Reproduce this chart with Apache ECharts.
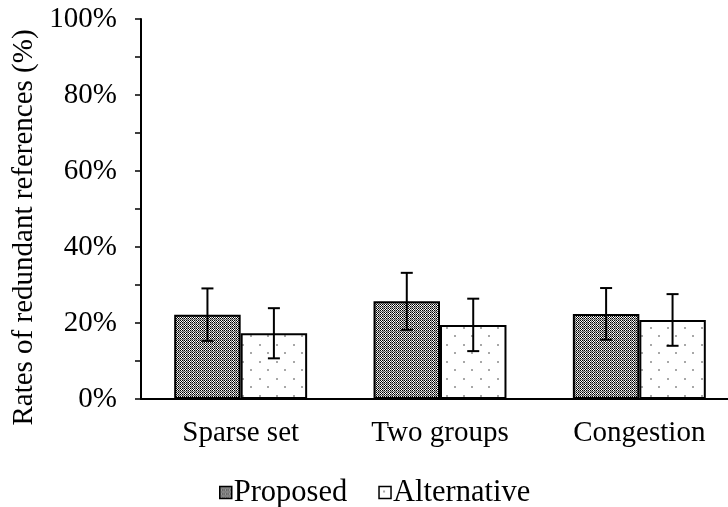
<!DOCTYPE html>
<html>
<head>
<meta charset="utf-8">
<script src="https://cdn.jsdelivr.net/npm/echarts@6/dist/echarts.min.js"></script>
<style>html,body{margin:0;padding:0;background:#fff;}#c{width:728px;height:507px;}</style>
</head>
<body>
<div id="c"></div>
<script>
const categories = ['Sparse set', 'Two groups', 'Congestion'];
const proposed = [22.2, 25.7, 22.4];
const proposedErr = [6.9, 7.5, 6.8];
const alternative = [17.3, 19.5, 20.8];
const alternativeErr = [6.6, 6.9, 6.8];
const yTicks = [0, 20, 40, 60, 80, 100];

const FONT = "'Liberation Serif', 'Times New Roman', serif";

function makeChecker() {
  const c = document.createElement('canvas');
  c.width = 8; c.height = 8;
  const ctx = c.getContext('2d');
  for (let y = 0; y < 8; y++) {
    for (let x = 0; x < 8; x++) {
      let col = ((x + y) % 2 === 0) ? '#000' : '#fff';
      if (x % 4 === 3 || y % 4 === 3) col = ((x + y) % 2 === 0) ? '#555' : '#bbb';
      ctx.fillStyle = col;
      ctx.fillRect(x, y, 1, 1);
    }
  }
  return c;
}
function makeDots() {
  const c = document.createElement('canvas');
  c.width = 17; c.height = 17;
  const ctx = c.getContext('2d');
  ctx.fillStyle = '#fff';
  ctx.fillRect(0, 0, 17, 17);
  ctx.fillStyle = '#a8a8a8';
  ctx.fillRect(4, 4, 2, 2);
  ctx.fillRect(12, 12, 2, 2);
  return c;
}

const chart = echarts.init(document.getElementById('c'), null, {renderer: 'canvas'});

function errItem(offsetSign) {
  return function (params, api) {
    const i = api.value(0);
    const lo = api.value(1), hi = api.value(2);
    const band = api.size([1, 0])[0];
    const cx = api.coord([i, 0])[0] + offsetSign * band / 6;
    const yLo = api.coord([i, lo])[1];
    const yHi = api.coord([i, hi])[1];
    const cap = 6;
    const style = {stroke: '#000', lineWidth: 2};
    return {
      type: 'group',
      children: [
        {type: 'line', shape: {x1: cx, y1: yLo, x2: cx, y2: yHi}, style: style},
        {type: 'line', shape: {x1: cx - cap, y1: yHi, x2: cx + cap, y2: yHi}, style: style},
        {type: 'line', shape: {x1: cx - cap, y1: yLo, x2: cx + cap, y2: yLo}, style: style}
      ]
    };
  };
}

const option = {
  animation: false,
  backgroundColor: '#fff',
  textStyle: {fontFamily: FONT},
  grid: {left: 141, width: 598, top: 19, bottom: 108, containLabel: false, outerBoundsMode: 'none'},
  legend: {
    data: ['Proposed', 'Alternative'],
    bottom: -6,
    left: 214,
    icon: 'rect',
    itemWidth: 12,
    itemHeight: 12,
    itemGap: 31,
    itemStyle: {borderColor: '#000', borderWidth: 1.5},
    textStyle: {fontFamily: FONT, fontSize: 30.5, color: '#000', padding: [0, 0, 0, -3]}
  },
  xAxis: {
    type: 'category',
    data: categories,
    axisLine: {lineStyle: {color: '#000', width: 2}},
    axisTick: {show: false},
    axisLabel: {color: '#000', fontFamily: FONT, fontSize: 29, margin: 20},
    splitLine: {show: false}
  },
  yAxis: {
    type: 'value',
    min: 0,
    max: 100,
    interval: 20,
    name: 'Rates of redundant references (%)',
    nameLocation: 'middle',
    nameGap: 101,
    nameRotate: 90,
    nameTextStyle: {color: '#000', fontFamily: FONT, fontSize: 29, padding: [0, 37, 0, 0]},
    axisLine: {show: true, lineStyle: {color: '#000', width: 2}},
    axisTick: {show: true, length: 6, lineStyle: {color: '#000', width: 1.5}},
    minorTick: {show: true, splitNumber: 2, length: 6, lineStyle: {color: '#000', width: 1.5}},
    axisLabel: {
      color: '#000', fontFamily: FONT, fontSize: 29, margin: 24,
      formatter: function (v) { return yTicks.indexOf(v) >= 0 ? v + '%' : ''; }
    },
    splitLine: {show: false}
  },
  series: [
    {
      name: 'Proposed',
      type: 'bar',
      data: proposed,
      barGap: '0%',
      barCategoryGap: '33.3%',
      itemStyle: {color: {image: makeChecker(), repeat: 'repeat'}, borderColor: '#000', borderWidth: 2}
    },
    {
      name: 'Alternative',
      type: 'bar',
      data: alternative,
      barGap: '0%',
      barCategoryGap: '33.3%',
      itemStyle: {color: {image: makeDots(), repeat: 'repeat'}, borderColor: '#000', borderWidth: 2}
    },
    {
      name: 'errP',
      type: 'custom',
      renderItem: errItem(-1),
      encode: {x: 0, y: [1, 2]},
      data: proposed.map((v, i) => [i, v - proposedErr[i], v + proposedErr[i]]),
      z: 10
    },
    {
      name: 'errA',
      type: 'custom',
      renderItem: errItem(1),
      encode: {x: 0, y: [1, 2]},
      data: alternative.map((v, i) => [i, v - alternativeErr[i], v + alternativeErr[i]]),
      z: 10
    }
  ]
};
chart.setOption(option);
</script>
</body>
</html>
